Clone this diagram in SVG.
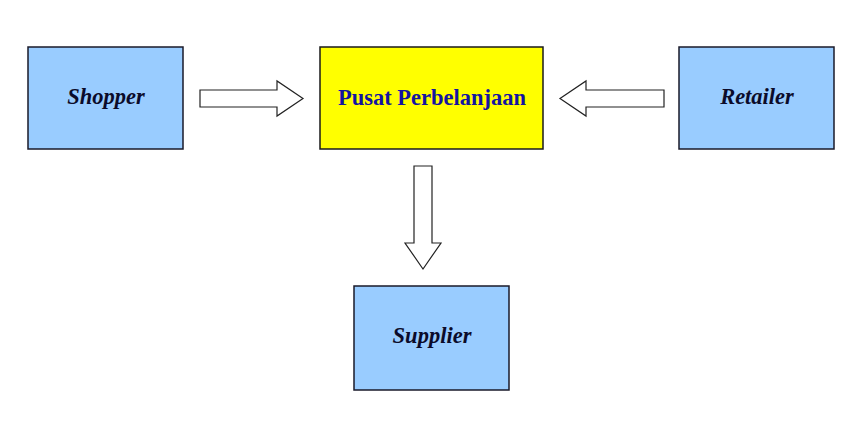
<svg xmlns="http://www.w3.org/2000/svg" width="854" height="428" viewBox="0 0 854 428">
<style>
.box{fill:#99CCFF;stroke:#1a1a2a;stroke-width:1.5}
.main{fill:#FFFF00;stroke:#1a1a1a;stroke-width:1.5}
.lbl{font-family:"Liberation Serif","Times New Roman",serif;font-size:22.5px;font-weight:bold;font-style:italic;fill:#0b0b2a;text-anchor:middle;dominant-baseline:central}
.mlbl{font-family:"Liberation Serif","Times New Roman",serif;font-size:22.5px;font-weight:bold;fill:#1414a0;text-anchor:middle;dominant-baseline:central}
.arr{fill:#ffffff;stroke:#222;stroke-width:1.2;stroke-linejoin:miter}
</style>
<rect width="854" height="428" fill="#ffffff"/>
<g id="shopper"><rect class="box" x="28" y="47" width="155" height="102"/><text class="lbl" x="106" y="96">Shopper</text></g>
<g id="pusat"><rect class="main" x="320" y="47" width="223" height="102"/><text class="mlbl" x="432" y="97">Pusat Perbelanjaan</text></g>
<g id="retailer"><rect class="box" x="679" y="47" width="155" height="102"/><text class="lbl" x="757" y="96">Retailer</text></g>
<g id="supplier"><rect class="box" x="354" y="286" width="155" height="104"/><text class="lbl" x="432" y="335">Supplier</text></g>
<g id="connectors">
<polygon class="arr" points="200,90 277,90 277,81 303,98.5 277,116 277,107 200,107"/>
<polygon class="arr" points="664,90 586,90 586,81 560,98.5 586,116 586,107 664,107"/>
<polygon class="arr" points="414,166 432,166 432,243 441,243 423,269 405,243 414,243"/>
</g>
</svg>
